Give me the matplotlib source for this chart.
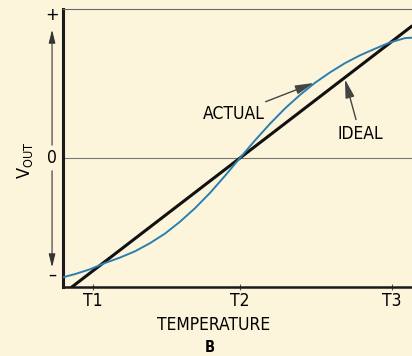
import matplotlib
matplotlib.use("Agg")
import matplotlib.pyplot as plt
from matplotlib import font_manager

# temperature axis: T2 at 0, one unit ~ the T2..T3 span
tick_pos = [-0.98, 0.0, 1.013]
tick_labels = ["T1", "T2", "T3"]

ideal_x = [-1.13, 1.15]
ideal_y = [-0.867, 0.882]

actual_x = [-1.18, -1.1, -1.0, -0.9, -0.8, -0.7, -0.6, -0.5, -0.4, -0.3, -0.2, -0.1,
            0.0, 0.1, 0.2, 0.3, 0.4, 0.5, 0.6, 0.7, 0.8, 0.9, 1.0, 1.1, 1.15]
actual_y = [-0.795, -0.774, -0.742, -0.700, -0.664, -0.622, -0.568, -0.504, -0.425,
            -0.335, -0.233, -0.119, 0.0, 0.117, 0.228, 0.330, 0.420, 0.501, 0.570,
            0.632, 0.684, 0.728, 0.770, 0.799, 0.802]

# narrow lettering if some condensed face is around, otherwise plain Arial-like
fonts = font_manager.fontManager.ttflist
narrow = [f for f in fonts if f.name == "Liberation Sans Narrow"]
dv_cond = [f for f in fonts if f.name == "DejaVu Sans" and f.stretch == "condensed"]
stretch = "normal"
if narrow:
    FAMILY, FS = "Liberation Sans Narrow", 13.5
elif dv_cond:
    FAMILY, FS, stretch = "DejaVu Sans", 12.5, "condensed"
else:
    FAMILY, FS = "Liberation Sans", 11.5
plt.rcParams["font.family"] = [FAMILY, "DejaVu Sans"]
plt.rcParams["font.stretch"] = stretch
plt.rcParams["mathtext.fontset"] = "custom"
plt.rcParams["mathtext.rm"] = FAMILY

bg = "#fcf5db"
ink = "#1a1a1a"

fig = plt.figure(figsize=(4.12, 3.56), dpi=100, facecolor=bg)
ax = fig.add_axes([63 / 412, 69 / 356, 349 / 412, 278 / 356], facecolor=bg)
ax.set_xlim(-1.18, 1.147)
ax.set_ylim(-0.86, 0.993)

ax.spines["right"].set_visible(False)
ax.spines["left"].set_linewidth(2.2)
ax.spines["left"].set_color(ink)
ax.spines["bottom"].set_linewidth(1.8)
ax.spines["bottom"].set_color(ink)
ax.spines["top"].set_linewidth(0.8)
ax.spines["top"].set_color("#666666")

ax.axhline(0, color="#777777", lw=0.8, zorder=1)

ax.plot(ideal_x, ideal_y, color="#111111", lw=2.2, solid_capstyle="butt", zorder=3)
ax.plot(actual_x, actual_y, color="#2a7fb0", lw=1.4, zorder=4)

ax.set_xticks(tick_pos)
ax.set_xticklabels(tick_labels, fontsize=FS)
ax.tick_params(axis="x", direction="inout", length=5, width=0.8, color="#555555", pad=1)
ax.set_yticks([])

# value direction markers left of the axis
xm = -1.253
ax.text(xm, 0.953, "+", ha="center", va="center", fontsize=13, clip_on=False)
ax.text(xm, 0.0, "0", ha="center", va="center", fontsize=FS, clip_on=False)
ax.text(xm, -0.78, "\u2013", ha="center", va="center", fontsize=13, clip_on=False)
ax.annotate("", xy=(xm, 0.873), xytext=(xm, 0.067), annotation_clip=False,
            arrowprops=dict(arrowstyle="-|>,head_length=0.8,head_width=0.2",
                            color="#333333", lw=0.8))
ax.annotate("", xy=(xm, -0.747), xytext=(xm, -0.067), annotation_clip=False,
            arrowprops=dict(arrowstyle="-|>,head_length=0.8,head_width=0.2",
                            color="#333333", lw=0.8))

# callouts
ax.annotate("ACTUAL", xy=(0.493, 0.50), xytext=(-0.04, 0.293), fontsize=FS,
            ha="center", va="center",
            arrowprops=dict(arrowstyle="-|>,head_length=0.9,head_width=0.22",
                            color="#444444", lw=1.0, shrinkA=1, shrinkB=0))
ax.annotate("IDEAL", xy=(0.70, 0.525), xytext=(0.80, 0.16), fontsize=FS,
            ha="center", va="center",
            arrowprops=dict(arrowstyle="-|>,head_length=0.9,head_width=0.22",
                            color="#444444", lw=1.0, shrinkA=2, shrinkB=0))

fig.text(25 / 412, 1 - 160 / 356, r"V$_{\mathrm{OUT}}$", rotation=90,
         ha="center", va="center", fontsize=FS + 0.5)
fig.text(214 / 412, 1 - 325 / 356, "TEMPERATURE", ha="center", va="center", fontsize=FS)
fig.text(210 / 412, 1 - 348 / 356, "B", ha="center", va="center", fontsize=10.5,
         fontweight="bold")

fig.savefig("out.png", dpi=100, facecolor=bg)
